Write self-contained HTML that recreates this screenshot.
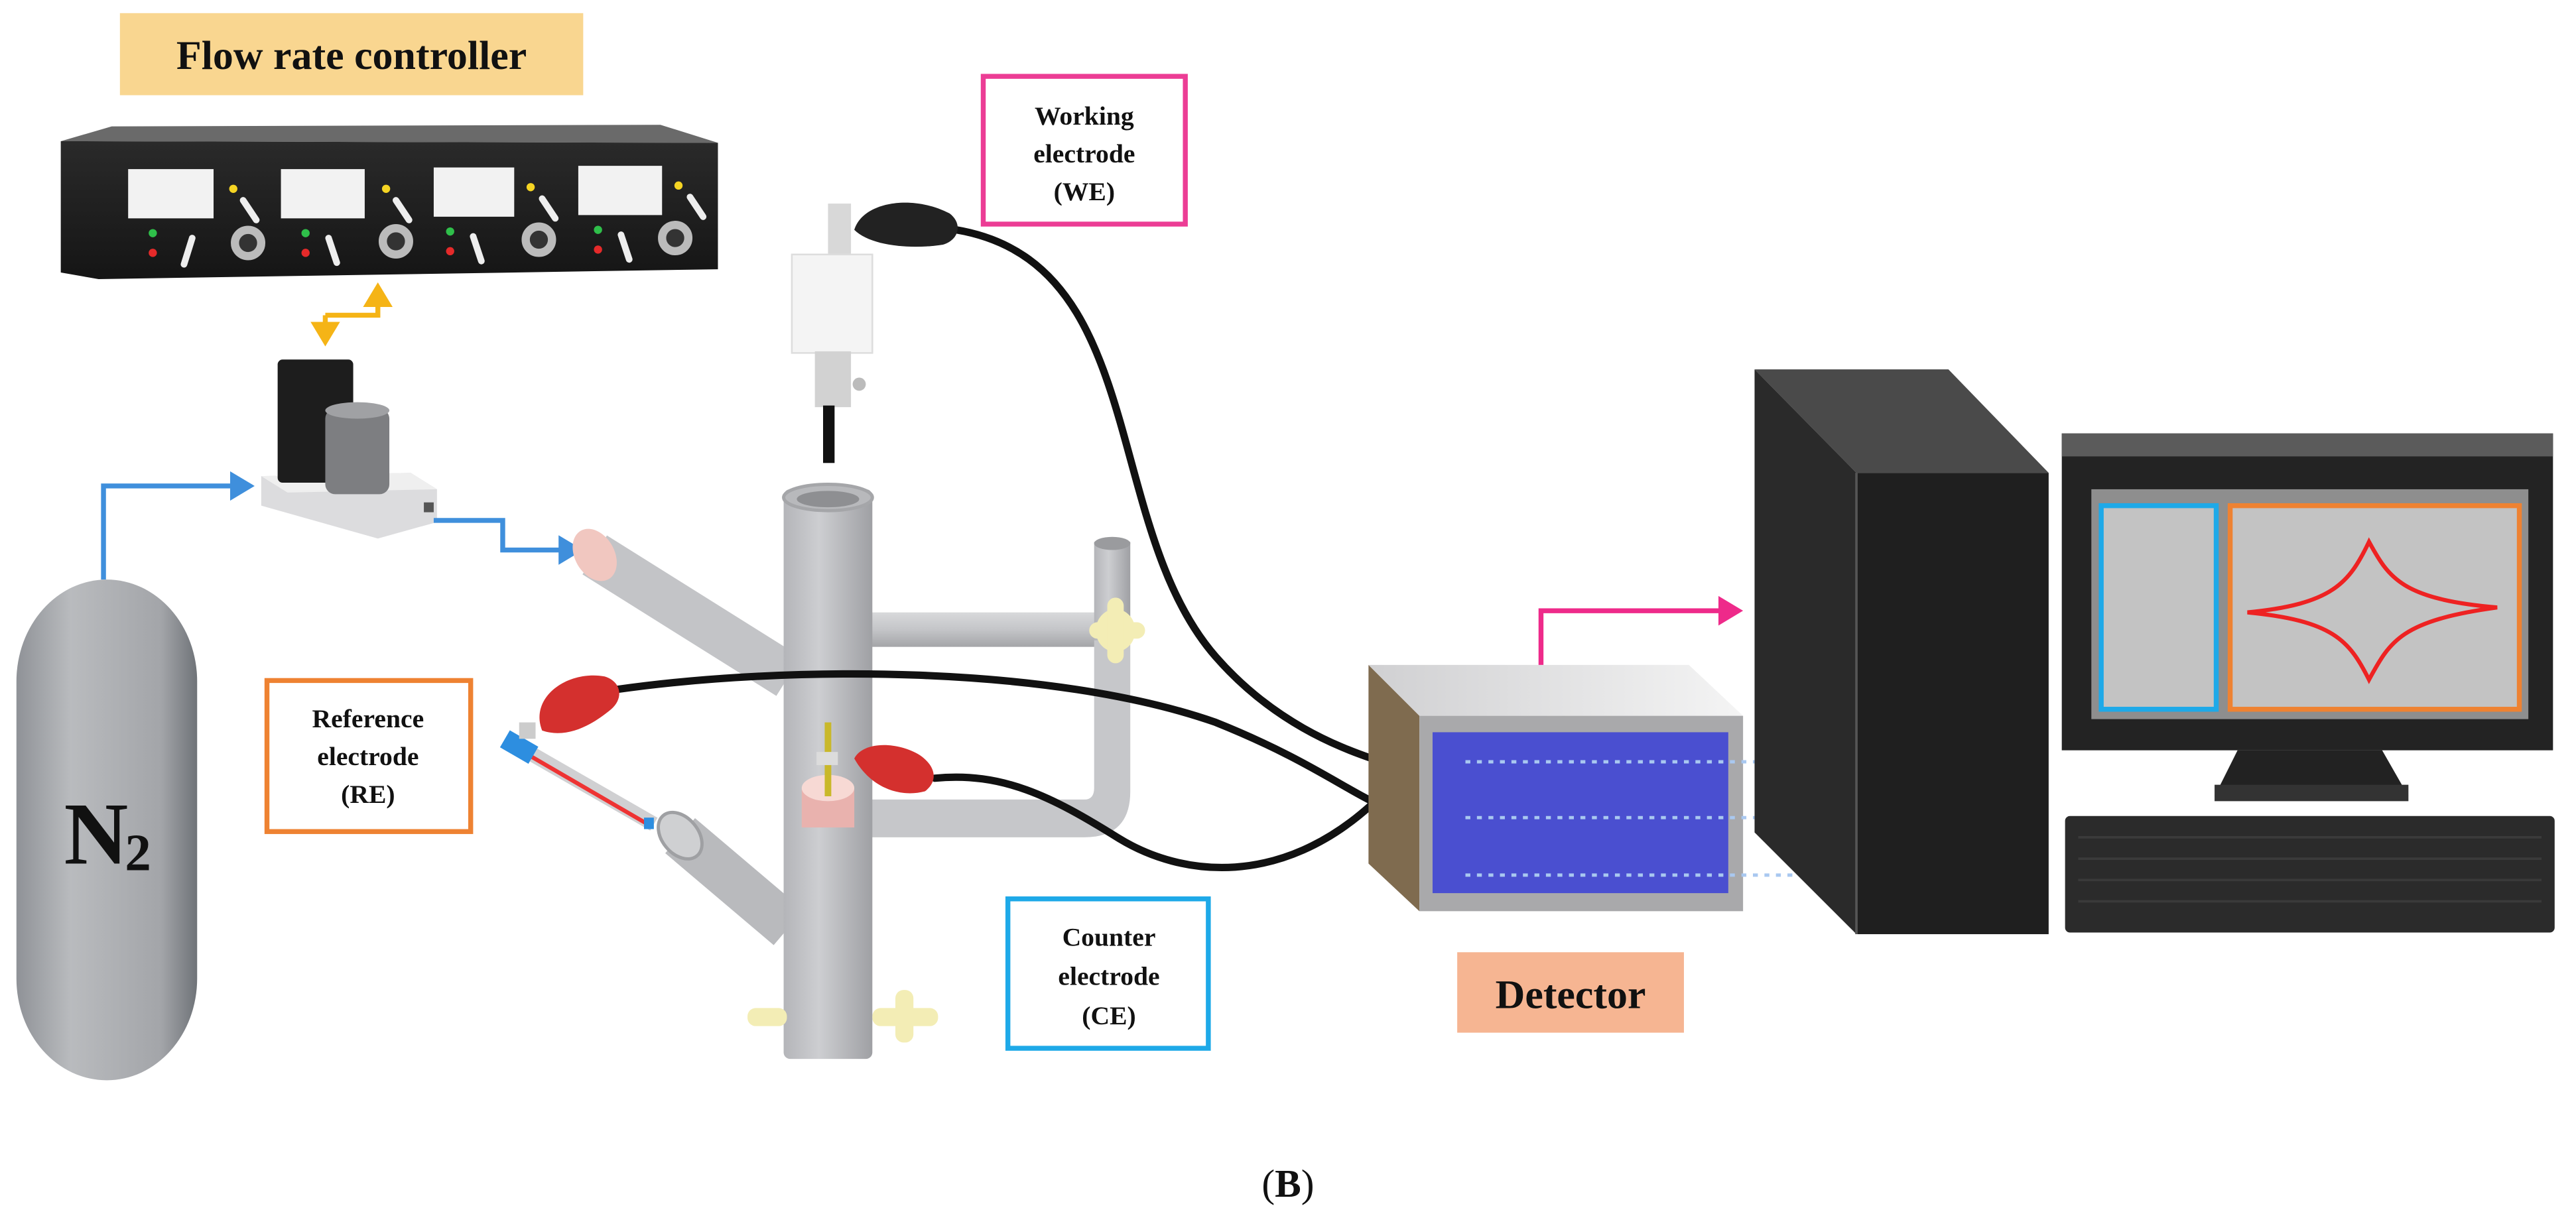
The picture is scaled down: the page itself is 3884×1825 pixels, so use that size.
<!DOCTYPE html>
<html><head><meta charset="utf-8"><style>html,body{margin:0;padding:0;background:#fff}svg{display:block}text{font-family:"Liberation Serif",serif;font-weight:bold;fill:#111}</style></head>
<body>
<svg width="3884" height="1825" viewBox="0 0 1568 737" preserveAspectRatio="none" xmlns="http://www.w3.org/2000/svg">
<defs>
<linearGradient id="tank" x1="0" x2="1"><stop offset="0" stop-color="#8f9297"/><stop offset="0.3" stop-color="#b9bbbe"/><stop offset="0.8" stop-color="#a3a5a9"/><stop offset="1" stop-color="#6f7378"/></linearGradient>
<linearGradient id="tubeV" x1="0" x2="1"><stop offset="0" stop-color="#b4b5b9"/><stop offset="0.4" stop-color="#cdced1"/><stop offset="1" stop-color="#9fa0a4"/></linearGradient>
<linearGradient id="tubeH" x1="0" y1="0" x2="0" y2="1"><stop offset="0" stop-color="#d8d9db"/><stop offset="0.5" stop-color="#c4c5c8"/><stop offset="1" stop-color="#a4a5a8"/></linearGradient>
<linearGradient id="blk" x1="0" y1="0" x2="0" y2="1"><stop offset="0" stop-color="#2a2a2a"/><stop offset="1" stop-color="#151515"/></linearGradient>
<linearGradient id="dtop" x1="0" x2="1"><stop offset="0" stop-color="#d0d0d2"/><stop offset="1" stop-color="#f4f4f4"/></linearGradient>
<marker id="ay" markerWidth="6" markerHeight="6" refX="4" refY="3" orient="auto" markerUnits="strokeWidth"><path d="M0,0 L5,3 L0,6 z" fill="#f5b416"/></marker>
<marker id="ab" markerWidth="6" markerHeight="6" refX="4" refY="3" orient="auto" markerUnits="strokeWidth"><path d="M0,0 L5,3 L0,6 z" fill="#3f8fdc"/></marker>
<marker id="ap" markerWidth="6" markerHeight="6" refX="4" refY="3" orient="auto" markerUnits="strokeWidth"><path d="M0,0 L5,3 L0,6 z" fill="#ee2a8a"/></marker>
</defs>

<!-- Flow rate controller label -->
<rect x="73" y="8" width="282" height="50" fill="#f9d690"/>
<text x="214" y="42" font-size="25" text-anchor="middle">Flow rate controller</text>

<!-- controller box -->
<polygon points="37,86 68,77 402,76 437,87" fill="#6a6a6a"/>
<polygon points="37,86 437,87 437,164 60,170 37,166" fill="url(#blk)"/>
<g fill="#f2f2f2">
<rect x="78" y="103" width="52" height="30"/><rect x="171" y="103" width="51" height="30"/>
<rect x="264" y="102" width="49" height="30"/><rect x="352" y="101" width="51" height="30"/>
</g>
<g fill="#f5d423"><circle cx="142" cy="115" r="2.5"/><circle cx="235" cy="115" r="2.5"/><circle cx="323" cy="114" r="2.5"/><circle cx="413" cy="113" r="2.5"/></g>
<g fill="#2fbf4a"><circle cx="93" cy="142" r="2.5"/><circle cx="186" cy="142" r="2.5"/><circle cx="274" cy="141" r="2.5"/><circle cx="364" cy="140" r="2.5"/></g>
<g fill="#e52a2a"><circle cx="93" cy="154" r="2.5"/><circle cx="186" cy="154" r="2.5"/><circle cx="274" cy="153" r="2.5"/><circle cx="364" cy="152" r="2.5"/></g>
<g stroke="#eee" stroke-width="4" stroke-linecap="round">
<line x1="148" y1="122" x2="156" y2="134"/><line x1="241" y1="122" x2="249" y2="134"/><line x1="330" y1="121" x2="338" y2="133"/><line x1="420" y1="120" x2="428" y2="132"/>
<line x1="112" y1="161" x2="117" y2="145"/><line x1="205" y1="160" x2="200" y2="145"/><line x1="293" y1="159" x2="288" y2="144"/><line x1="383" y1="158" x2="378" y2="143"/>
</g>
<g fill="#333" stroke="#bbb" stroke-width="5"><circle cx="151" cy="148" r="8"/><circle cx="241" cy="147" r="8"/><circle cx="328" cy="146" r="8"/><circle cx="411" cy="145" r="8"/></g>

<!-- yellow arrow -->
<path d="M198,192 H230 V175" fill="none" stroke="#f5b416" stroke-width="3" marker-end="url(#ay)"/>
<path d="M198,192 V208" fill="none" stroke="#f5b416" stroke-width="3" marker-end="url(#ay)"/>

<!-- valve -->
<polygon points="159,290 250,288 266,298 266,318 230,328 159,308" fill="#dcdcde"/>
<polygon points="159,290 250,288 266,298 175,300" fill="#efefef"/>
<rect x="258" y="306" width="6" height="6" fill="#555"/>
<rect x="169" y="219" width="46" height="75" rx="3" fill="#1d1d1d"/>
<rect x="198" y="249" width="39" height="52" rx="6" fill="#7d7e81"/>
<ellipse cx="217.5" cy="250" rx="19.5" ry="5" fill="#a0a1a4"/>

<!-- blue arrows -->
<path d="M63,353 V296 H152" fill="none" stroke="#3f8fdc" stroke-width="3" marker-end="url(#ab)"/>
<path d="M264,317 H306 V335 H352" fill="none" stroke="#3f8fdc" stroke-width="3" marker-end="url(#ab)"/>

<!-- N2 tank -->
<rect x="10" y="353" width="110" height="305" rx="55" ry="62" fill="url(#tank)"/>
<text x="39" y="526" font-size="54">N</text>
<text x="76" y="530" font-size="32">2</text>

<!-- cell: upper diagonal tube -->
<line x1="362" y1="338" x2="480" y2="412" stroke="#c3c4c7" stroke-width="28" stroke-linecap="butt"/>
<ellipse cx="362" cy="338" rx="12" ry="17" transform="rotate(-30 362 338)" fill="#f1c7c0"/>
<!-- lower diagonal tube -->
<line x1="414" y1="509" x2="480" y2="565" stroke="#b9babd" stroke-width="28"/>
<ellipse cx="414" cy="509" rx="11" ry="16" transform="rotate(-40 414 509)" fill="#cfd0d2" stroke="#9fa0a3" stroke-width="2"/>
<!-- right upper arm -->
<rect x="530" y="373" width="140" height="21" fill="url(#tubeH)"/>
<rect x="666" y="330" width="22" height="60" fill="url(#tubeV)"/>
<ellipse cx="677" cy="331" rx="11" ry="4" fill="#9a9b9e"/>
<!-- right U arm -->
<path d="M530,487 H660 Q666,487 666,480 V390 H688 V482 Q688,510 660,510 H530 Z" fill="#c6c7ca"/>
<!-- vertical tube -->
<rect x="477" y="298" width="54" height="347" rx="4" fill="url(#tubeV)"/>
<ellipse cx="504" cy="303" rx="27" ry="8" fill="#b8b9bc" stroke="#a5a6a9" stroke-width="2"/>
<ellipse cx="504" cy="304" rx="19" ry="5" fill="#8e8f92"/>
<!-- stopcocks -->
<g fill="#f3edb5">
<ellipse cx="679" cy="384" rx="12" ry="13"/><rect x="663" y="379" width="34" height="10" rx="5"/><rect x="674" y="364" width="10" height="40" rx="5"/>
<rect x="455" y="614" width="24" height="11" rx="5"/>
<rect x="531" y="614" width="40" height="11" rx="5"/><rect x="545" y="603" width="11" height="32" rx="5"/>
</g>
<!-- CE joint -->
<rect x="488" y="480" width="32" height="24" fill="#e9b2ae"/>
<ellipse cx="504" cy="480" rx="16" ry="8" fill="#f7d9d4"/>
<rect x="502" y="440" width="4" height="45" fill="#c9b82a"/>
<rect x="497" y="458" width="13" height="8" fill="#dcdcdc"/>

<!-- RE electrode tube -->
<line x1="318" y1="456" x2="398" y2="502" stroke="#d0d0d2" stroke-width="9"/>
<line x1="322" y1="460" x2="396" y2="503" stroke="#e33" stroke-width="2.5"/>
<rect x="306" y="449" width="20" height="12" transform="rotate(30 316 455)" fill="#2d8ee0"/>
<rect x="392" y="498" width="6" height="7" fill="#2d8ee0"/>
<rect x="316" y="440" width="10" height="10" fill="#ccc"/>

<!-- cables -->
<g fill="none" stroke="#111" stroke-width="4.5" stroke-linecap="round">
<path d="M582,140 C700,160 670,320 740,400 C775,440 815,455 835,462"/>
<path d="M375,420 C480,405 640,405 740,440 C790,460 815,478 835,488"/>
<path d="M569,474 C610,470 640,485 680,510 C720,535 780,540 835,490"/>
</g>
<!-- red plugs -->
<path d="M330,445 C322,425 345,408 368,412 C378,415 380,425 372,432 C360,442 345,450 330,445 Z" fill="#d4302e"/>
<path d="M520,462 C525,452 545,451 560,460 C570,467 571,476 563,482 C548,486 530,480 520,462 Z" fill="#d4302e"/>

<!-- WE electrode -->
<rect x="504" y="124" width="14" height="32" fill="#d8d8d8"/>
<rect x="482" y="155" width="49" height="60" fill="#f4f4f4" stroke="#ddd"/>
<rect x="496" y="214" width="22" height="34" fill="#d2d2d2"/>
<circle cx="523" cy="234" r="4" fill="#bbb"/>
<rect x="501" y="247" width="7" height="35" fill="#111"/>
<path d="M520,140 C525,123 555,118 578,130 C586,136 584,146 574,149 C555,152 530,150 520,140 Z" fill="#222"/>

<!-- label boxes -->
<rect x="598.5" y="46.5" width="123" height="90" fill="#fff" stroke="#ec3d95" stroke-width="3"/>
<text x="660" y="76" font-size="16" text-anchor="middle">Working</text>
<text x="660" y="99" font-size="16" text-anchor="middle">electrode</text>
<text x="660" y="122" font-size="16" text-anchor="middle">(WE)</text>

<rect x="162.5" y="414.5" width="124" height="92" fill="#fff" stroke="#ee8232" stroke-width="3"/>
<text x="224" y="443" font-size="16" text-anchor="middle">Reference</text>
<text x="224" y="466" font-size="16" text-anchor="middle">electrode</text>
<text x="224" y="489" font-size="16" text-anchor="middle">(RE)</text>

<rect x="613.5" y="547.5" width="122" height="91" fill="#fff" stroke="#1ea9e8" stroke-width="3"/>
<text x="675" y="576" font-size="16" text-anchor="middle">Counter</text>
<text x="675" y="600" font-size="16" text-anchor="middle">electrode</text>
<text x="675" y="624" font-size="16" text-anchor="middle">(CE)</text>

<!-- detector -->
<polygon points="833,405 864,436 864,555 833,526" fill="#7f6b4f"/>
<polygon points="833,405 1028,405 1061,436 864,436" fill="url(#dtop)"/>
<rect x="864" y="436" width="197" height="119" fill="#a9a9ab"/>
<rect x="872" y="446" width="180" height="98" fill="#4a4fd0"/>
<g stroke="#a9c8f0" stroke-width="2" stroke-dasharray="3,4">
<line x1="892" y1="464" x2="1068" y2="464"/><line x1="892" y1="498" x2="1068" y2="498"/><line x1="892" y1="533" x2="1095" y2="533"/>
</g>
<path d="M938,405 V372 H1058" fill="none" stroke="#ee2a8a" stroke-width="3" marker-end="url(#ap)"/>
<rect x="887" y="580" width="138" height="49" fill="#f6b592"/>
<text x="956" y="614" font-size="25" text-anchor="middle">Detector</text>

<!-- tower -->
<polygon points="1068,225 1186,225 1247,288 1130,288" fill="#4a4a4a"/>
<polygon points="1068,225 1130,288 1130,569 1068,507" fill="#2a2a2a"/>
<rect x="1130" y="288" width="117" height="281" fill="#1f1f1f"/>
<line x1="1130" y1="288" x2="1130" y2="569" stroke="#555" stroke-width="1.5"/>

<!-- monitor -->
<rect x="1255" y="264" width="299" height="193" fill="#232323"/>
<rect x="1255" y="264" width="299" height="14" fill="#5b5b5b"/>
<rect x="1273" y="298" width="266" height="140" fill="#8e8e8e"/>
<rect x="1279" y="308" width="70" height="124" fill="#c3c3c3" stroke="#1ea9e8" stroke-width="3"/>
<rect x="1357.5" y="308" width="176" height="124" fill="#c3c3c3" stroke="#ee8232" stroke-width="3"/>
<path d="M1368,373 C1420,368 1430,355 1442,330 C1454,352 1462,365 1520,370 C1462,378 1455,390 1442,414 C1430,390 1420,378 1368,373 Z" fill="none" stroke="#e22" stroke-width="2.5"/>
<polygon points="1362,457 1450,457 1466,485 1348,485" fill="#222"/>
<polygon points="1348,478 1466,478 1466,488 1348,488" fill="#333"/>
<rect x="1257" y="497" width="298" height="71" rx="3" fill="#2b2b2b"/>
<g stroke="#3a3a3a" stroke-width="1.5" fill="none">
<line x1="1265" y1="510" x2="1547" y2="510"/><line x1="1265" y1="523" x2="1547" y2="523"/><line x1="1265" y1="536" x2="1547" y2="536"/><line x1="1265" y1="549" x2="1547" y2="549"/>
</g>

<text x="784" y="729" font-size="24" text-anchor="middle"><tspan font-weight="normal">(</tspan>B<tspan font-weight="normal">)</tspan></text>
</svg>
</body></html>
